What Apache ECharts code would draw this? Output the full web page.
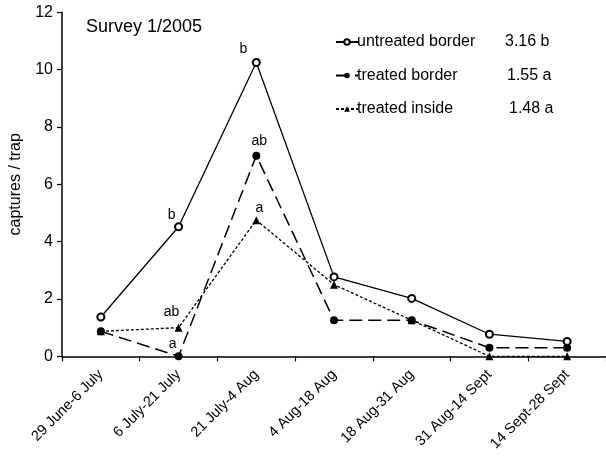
<!DOCTYPE html>
<html><head><meta charset="utf-8">
<script src="https://cdn.jsdelivr.net/npm/echarts@6/dist/echarts.min.js"></script>
<style>html,body{margin:0;padding:0;background:#fff}#c{width:606px;height:457px}</style>
</head><body><div id="c"></div>
<script>
const categories = ['29 June-6 July','6 July-21 July','21 July-4 Aug','4 Aug-18 Aug','18 Aug-31 Aug','31 Aug-14 Sept','14 Sept-28 Sept'];
const untreatedBorder = [1.37, 4.52, 10.25, 2.77, 2.02, 0.77, 0.52];
const treatedBorder   = [0.87, 0, 7.0, 1.26, 1.26, 0.3, 0.3];
const treatedInside   = [0.87, 1.0, 4.75, 2.5, 1.26, 0, 0];
const untreatedSig = ['', 'b', 'b', '', '', '', ''];
const borderSig    = ['', 'a', 'ab', '', '', '', ''];
const insideSig    = ['', 'ab', 'a', '', '', '', ''];
const seriesNames = ['untreated border', 'treated border', 'treated inside'];
const meanLabels = ['3.16 b', '1.55 a', '1.48 a'];
const yTicks = [0, 2, 4, 6, 8, 10, 12];

const FONT = 'Liberation Sans, Arial, sans-serif';
// label offsets (style, not data)
const offs = {
  0: {1: [-7, -12], 2: [-13, -13]},
  1: {1: [-6, -12], 2: [3, -14]},
  2: {1: [-7, -15], 2: [3, -12]}
};
function build(vals, sig, si) {
  return vals.map((v, i) => {
    const d = {value: v};
    if (sig[i]) {
      d.label = {show: true, formatter: sig[i], position: 'inside', offset: offs[si][i],
        color: '#000', fontSize: 14, fontFamily: FONT};
    }
    return d;
  });
}
const chart = echarts.init(document.getElementById('c'), null, {renderer: 'canvas'});
chart.setOption({
  animation: false,
  backgroundColor: '#fff',
  textStyle: {fontFamily: FONT, color: '#000'},
  title: {text: 'Survey 1/2005', left: 81, top: 13,
    textStyle: {fontSize: 18, fontWeight: 'normal', color: '#000', fontFamily: FONT}},
  legend: {orient: 'vertical', left: 330, top: 29, itemWidth: 22, itemHeight: 7, itemGap: 17.5,
    data: seriesNames,
    textStyle: {fontSize: 16, color: '#000', fontFamily: FONT, padding: [0,0,0,-6]}},
  graphic: meanLabels.map((t, i) => ({type: 'text', left: 505 + i * 2, top: 34 + i * 33.5,
    style: {text: t, fontSize: 16, fill: '#000', fontFamily: FONT}})),
  grid: {left: 62, right: -2, top: 12.3, bottom: 100.7, containLabel: false},
  xAxis: {type: 'category', data: categories, boundaryGap: true,
    axisLine: {lineStyle: {color: '#000', width: 1.5}},
    axisTick: {show: true, length: 5, inside: false, lineStyle: {color: '#000', width: 1.2}},
    axisLabel: {rotate: 45, color: '#000', fontSize: 14.5, fontFamily: FONT, margin: 16, interval: 0},
    splitLine: {show: false}},
  yAxis: {type: 'value', min: yTicks[0], max: yTicks[yTicks.length - 1], interval: 2,
    name: 'captures / trap', nameLocation: 'middle', nameGap: 38,
    nameTextStyle: {fontSize: 16, color: '#000', fontFamily: FONT},
    axisLine: {show: true, lineStyle: {color: '#000', width: 1.5}},
    axisTick: {show: true, length: 5, lineStyle: {color: '#000', width: 1.2}},
    axisLabel: {color: '#000', fontSize: 16, fontFamily: FONT, margin: 9},
    splitLine: {show: false}},
  series: [
    {name: seriesNames[0], type: 'line', data: build(untreatedBorder, untreatedSig, 0),
      symbol: 'emptyCircle', symbolSize: 7, showAllSymbol: true,
      lineStyle: {color: '#000', width: 1.3, type: 'solid'},
      itemStyle: {color: '#000', borderColor: '#000', borderWidth: 0.7}},
    {name: seriesNames[1], type: 'line', data: build(treatedBorder, borderSig, 1),
      symbol: 'circle', symbolSize: 8,
      lineStyle: {color: '#000', width: 1.5, type: [13, 6]},
      itemStyle: {color: '#000'}},
    {name: seriesNames[2], type: 'line', data: build(treatedInside, insideSig, 2),
      symbol: 'triangle', symbolSize: 8,
      lineStyle: {color: '#000', width: 1.3, type: [3, 2]},
      itemStyle: {color: '#000'}}
  ]
});
</script></body></html>
